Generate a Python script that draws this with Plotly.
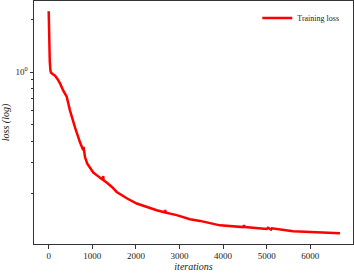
import plotly.graph_objects as go

# training loss curve (log y axis)
iterations = [0, 5, 12, 18, 25, 40, 53, 100, 145, 197, 260, 335, 413, 489, 541, 603,
              718, 790, 800, 833, 885, 960, 1023, 1100, 1177, 1240, 1250, 1260, 1330,
              1450, 1560, 1800, 2019, 2250, 2477, 2650, 2670, 2690, 2936, 3241, 3470,
              3929, 4456, 4480, 4500, 5000, 5030, 5100, 5120, 5603, 6222, 6681]
loss = [2.24, 1.5, 1.21, 1.42, 1.15, 1.02, 0.99, 0.97, 0.953, 0.915, 0.86, 0.781, 0.722,
        0.60, 0.541, 0.48, 0.394, 0.355, 0.37, 0.323, 0.297, 0.28, 0.264, 0.255, 0.247,
        0.240, 0.252, 0.238, 0.231, 0.218, 0.204, 0.187, 0.175, 0.167, 0.160, 0.156,
        0.160, 0.155, 0.150, 0.142, 0.139, 0.131, 0.128, 0.131, 0.128, 0.125, 0.127,
        0.124, 0.126, 0.121, 0.119, 0.118]

x_ticks = [0, 1000, 2000, 3000, 4000, 5000, 6000]
y_major = [1]
y_minor = [0.2, 0.3, 0.4, 0.5, 0.6, 0.7, 0.8, 0.9, 2]

font = "Liberation Serif"

fig = go.Figure()
fig.add_trace(go.Scatter(x=iterations, y=loss, mode="lines", name="Training loss",
                         line=dict(color="#ff0000", width=2.5)))

fig.update_layout(
    width=354, height=273,
    margin=dict(l=34, r=1, t=1, b=29, autoexpand=False),
    plot_bgcolor="white", paper_bgcolor="white",
    font=dict(family=font, size=9, color="#222"),
    showlegend=True,
    legend=dict(x=0.70, y=0.99, xanchor="left", yanchor="top",
                bgcolor="rgba(0,0,0,0)", font=dict(size=8, family=font),
                itemwidth=30),
)
fig.update_xaxes(
    range=[-337, 6979], tickvals=x_ticks, ticks="outside", ticklen=3.5,
    tickcolor="#333", showline=True, linecolor="#333", linewidth=1, mirror=True,
    showgrid=False, zeroline=False, automargin=False,
    title=dict(text="<i>iterations</i>", font=dict(size=10, family=font), standoff=0),
)
fig.update_yaxes(
    type="log", range=[-0.99, 0.409], tickvals=y_major, ticktext=["10<sup>0</sup>"],
    ticks="outside", ticklen=3.5, tickcolor="#333",
    minor=dict(tickvals=y_minor, ticks="outside", ticklen=2, tickcolor="#333", showgrid=False),
    showline=True, linecolor="#333", linewidth=1, mirror=True,
    showgrid=False, zeroline=False, automargin=False,
    title=dict(text="<i>loss (log)</i>", font=dict(size=10, family=font), standoff=4),
)

# drop the page's default body margin so the figure sits at the window's corner
fig.write_html("out.html", config={"displayModeBar": False},
               post_script="document.body.style.margin='0';")
